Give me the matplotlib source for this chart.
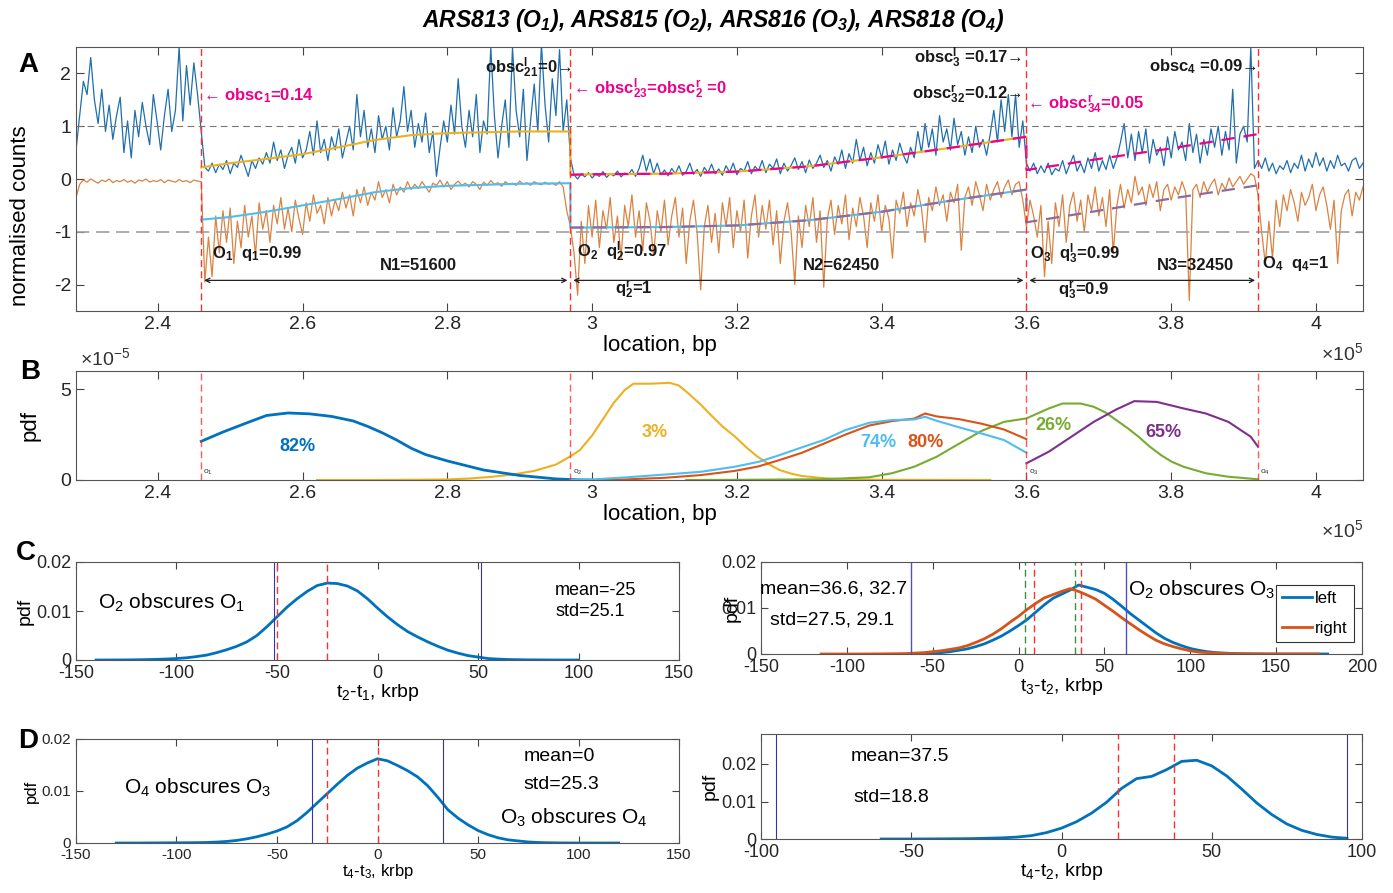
import numpy as np
import matplotlib
matplotlib.use("Agg")
import matplotlib.pyplot as plt
from matplotlib.ticker import FuncFormatter

plt.rcParams['font.family'] = ['Liberation Sans', 'DejaVu Sans']
plt.rcParams['mathtext.fontset'] = 'custom'
plt.rcParams['mathtext.rm'] = 'Liberation Sans'
plt.rcParams['mathtext.default'] = 'regular'
plt.rcParams['axes.unicode_minus'] = False
plt.rcParams['axes.linewidth'] = 0.8
plt.rcParams['axes.edgecolor'] = '#555555'
plt.rcParams['xtick.color'] = '#444444'
plt.rcParams['ytick.color'] = '#444444'
plt.rcParams['xtick.labelcolor'] = '#262626'
plt.rcParams['ytick.labelcolor'] = '#262626'
plt.rcParams['xtick.direction'] = 'in'
plt.rcParams['ytick.direction'] = 'in'
plt.rcParams['xtick.top'] = True
plt.rcParams['ytick.right'] = True

# ---------------- data ----------------
# origin positions (x 1e5 bp) and segment bounds
origins = [2.46, 2.97, 3.60, 3.92]
seg_bounds = [2.287, 2.46, 2.97, 3.60, 3.92, 4.065]

# normalised counts, top trace (blue), one list per segment
top_seg0 = [0.55, 1.2, 1.85, 1.6, 2.3, 1.5, 1.05, 1.7, 0.9, 1.4, 0.75, 1.2, 1.55, 0.5, 1.1, 0.4, 1.3, 0.8,
            1.45, 1.0, 0.65, 1.6, 1.1, 0.55, 1.2, 1.7, 0.9, 1.3, 2.5, 1.1, 2.15, 1.4, 2.2, 1.6, 0.9]
top_seg1 = [0.45, 0.22, 0.15, 0.3, 0.12, 0.28, 0.18, 0.35, 0.1, 0.3, 0.22, 0.45, 0.25, 0.05, 0.35, 0.2, 0.4,
            0.28, 0.5, 0.3, 0.7, 0.35, 0.55, 0.2, 0.45, 0.6, 0.3, 0.75, 0.4, 0.55, 0.9, 0.45, 1.1, 0.5, 0.75,
            0.35, 0.8, 0.55, 0.95, 0.4, 0.7, 1.0, 0.55, 1.6, 0.8, 1.3, 0.6, 0.95, 0.5, 1.2, 0.75, 1.0, 0.55,
            1.35, 0.8, 1.1, 1.75, 0.9, 1.3, 0.6, 1.05, 0.7, 1.25, 0.5, 0.9, 0.05, 0.6, 1.1, 0.7, 1.4, 0.85,
            1.9, 1.0, 0.6, 1.3, 0.8, 1.6, 0.5, 1.1, 0.85, 2.5, 1.2, 0.4, 1.0, 1.5, 0.6, 2.5, 1.3, 0.8, 1.7,
            0.35, 1.1, 1.8, 0.9, 2.55, 1.4, 0.7, 1.9, 1.2, 2.45, 0.9, 1.5, 0.4]
top_seg2 = [0.05, 0.08, 0.0, 0.1, 0.04, 0.12, 0.02, 0.09, 0.05, 0.14, 0.03, 0.1, 0.06, 0.15, 0.04, 0.11,
            0.08, 0.18, 0.05, 0.2, 0.45, 0.15, 0.38, 0.1, 0.3, 0.08, 0.17, 0.06, 0.2, 0.1, 0.25, 0.07, 0.14,
            0.3, 0.09, 0.18, 0.05, 0.22, 0.12, 0.28, 0.1, 0.19, 0.07, 0.25, 0.13, 0.3, 0.08, 0.2, 0.15, 0.33,
            0.1, 0.24, 0.16, 0.35, 0.12, 0.28, 0.2, 0.38, 0.1, 0.3, 0.15, 0.26, 0.4, 0.18, 0.33, 0.12, 0.36,
            0.2, 0.3, 0.45, 0.22, 0.35, 0.15, 0.42, 0.28, 0.55, 0.2, 0.48, 0.3, 0.75, 0.35, 0.6, 0.25, 0.5,
            0.3, 0.65, 0.4, 0.72, 0.28, 0.55, 0.35, 0.68, 0.45, 0.3, 0.6, 0.4, 0.9, 0.5, 1.05, 0.6, 0.95,
            0.45, 1.2, 0.7, 0.95, 0.55, 1.15, 0.65, 0.9, 0.45, 0.8, 0.5, 1.0, 0.6, 0.75, 0.45, 0.85, 1.3,
            0.7, 1.5, 0.9, 1.6, 0.8, 1.6, 0.6, 1.1, 0.3]
top_seg3 = [0.35, 0.15, 0.3, 0.1, 0.25, 0.12, 0.3, 0.08, 0.2, 0.15, 0.35, 0.1, 0.28, 0.45, 0.15, 0.3, 0.12,
            0.4, 0.2, 0.5, 0.15, 0.35, 0.18, 0.45, 0.2, 0.4, 0.7, 1.05, 0.4, 0.85, 0.35, 0.9, 0.5, 0.95, 0.3,
            0.75, 0.45, 0.6, 0.25, 0.8, 0.4, 0.9, 0.55, 0.7, 0.35, 1.05, 0.5, 0.85, 0.3, 0.75, 0.45, 0.95,
            0.6, 1.0, 0.45, 0.9, 0.55, 1.7, 0.3, 0.85, 1.0, 0.7, 2.5, 0.2, 0.35]
top_seg4 = [0.35, 0.2, 0.4, 0.15, 0.3, 0.1, 0.25, 0.18, 0.35, 0.12, 0.3, 0.2, 0.45, 0.15, 0.38, 0.22, 0.5,
            0.25, 0.4, 0.15, 0.35, 0.2, 0.45, 0.25, 0.3, 0.15, 0.35, 0.4, 0.2, 0.3]

# normalised counts, bottom trace (orange)
bot_seg0 = [-0.35, -0.1, -0.02, -0.06, 0.0, -0.04, -0.08, -0.02, -0.05, 0.0, -0.07, -0.03, -0.05, -0.01,
            -0.06, -0.03, -0.08, -0.02, -0.04, 0.0, -0.06, -0.03, -0.05, -0.01, -0.07, -0.02, -0.04, -0.06,
            -0.01, -0.05, -0.03, -0.07, -0.02, -0.04, -0.05]
bot_seg1 = [-0.3, -1.95, -1.1, -1.85, -0.7, -1.4, -0.6, -1.2, -0.55, -1.6, -0.8, -1.3, -0.5, -1.1, -0.7,
            -1.45, -0.45, -0.95, -0.6, -1.2, -0.5, -0.85, -0.35, -0.95, -0.55, -1.0, -0.4, -0.75, -1.05,
            -0.45, -0.8, -0.3, -0.65, -0.5, -0.85, -0.35, -0.7, -0.4, -0.6, -0.25, -0.55, -0.3, -0.7, -0.2,
            -0.45, -0.15, -0.5, -0.25, -0.4, -0.05, -0.35, -0.2, -0.45, -0.1, -0.3, -0.15, -0.25, -0.05,
            -0.2, -0.1, -0.18, -0.05, -0.15, -0.25, -0.08, -0.12, -0.02, -0.15, -0.05, -0.2, -0.1, -0.04,
            -0.12, -0.08, -0.15, -0.05, -0.1, -0.2, -0.06, -0.12, -0.03, -0.1, -0.07, -0.14, -0.05, -0.1,
            -0.08, -0.12, -0.04, -0.1, -0.07, -0.12, -0.05, -0.09, -0.11, -0.06, -0.1, -0.08, -0.12, -0.05,
            -0.15, -0.6, -0.9]
bot_seg2 = [-2.5, -1.4, -2.2, -0.8, -1.6, -0.5, -1.1, -0.4, -1.3, -0.6, -0.95, -0.35, -1.2, -0.7, -1.5,
            -0.5, -0.9, -0.3, -1.1, -0.6, -1.35, -0.45, -0.8, -1.45, -0.6, -1.0, -0.4, -1.25, -0.7, -0.35,
            -1.1, -0.55, -1.6, -0.8, -0.4, -1.0, -2.1, -0.9, -0.5, -1.2, -0.65, -1.4, -0.45, -0.9, -0.35,
            -1.3, -0.6, -1.0, -0.4, -1.5, -0.7, -0.3, -1.1, -0.5, -0.95, -0.4, -1.25, -0.6, -1.6, -0.8,
            -0.45, -1.0, -2.0, -0.7, -1.3, -0.5, -0.9, -0.35, -1.2, -0.6, -2.05, -0.75, -0.4, -1.05, -0.5,
            -0.85, -0.3, -1.15, -0.55, -0.9, -0.35, -0.7, -1.3, -0.45, -0.8, -0.3, -1.0, -0.5, -0.75, -1.5,
            -0.4, -0.65, -0.25, -0.9, -0.45, -0.7, -0.2, -0.55, -1.2, -0.35, -0.6, -0.15, -0.5, -0.3, -0.8,
            -0.25, -0.45, -0.1, -1.35, -0.35, -0.15, -0.5, -0.05, -0.3, -0.6, -0.1, -0.4, -0.2, -0.05,
            -0.35, -0.15, -0.02, -0.3, -0.1, -0.05, -0.4, -0.9]
bot_seg3 = [-1.0, -0.4, -0.7, -1.1, -0.5, -1.85, -0.8, -1.6, -0.45, -0.9, -0.3, -1.2, -0.5, -0.25, -0.8,
            -0.4, -1.0, -0.3, -0.6, -0.15, -0.7, -0.35, -0.9, -0.2, -1.4, -0.5, -0.1, -0.55, -0.2, -0.45,
            0.05, -0.3, -0.15, -0.5, -0.1, -0.35, -0.05, -0.6, -0.2, -0.1, -0.4, -0.15, -0.3, -0.05, -0.25,
            -2.3, -0.2, -0.1, -0.35, -0.05, -0.25, -0.1, 0.0, -0.3, -0.08, -0.2, 0.02, -0.15, -0.05, 0.05,
            -0.1, 0.0, 0.1, 0.05, -0.3]
bot_seg4 = [-0.5, -1.0, -1.6, -0.8, -1.5, -0.4, -0.9, -0.3, -0.6, -0.2, -0.45, -0.8, -0.25, -0.5, -0.35,
            -0.1, -0.6, -0.3, -0.15, -0.5, -0.95, -0.4, -1.6, -0.6, -0.3, -0.2, -0.7, -0.25, -0.4, -0.15]

# fitted profiles in panel A
fit_top_x = [2.46, 2.5, 2.55, 2.6, 2.65, 2.7, 2.75, 2.8, 2.9, 2.97, 2.97, 3.0, 3.1, 3.2, 3.3, 3.4, 3.5, 3.6]
fit_top_y = [0.22, 0.3, 0.38, 0.47, 0.6, 0.74, 0.83, 0.87, 0.9, 0.9, 0.08, 0.09, 0.1, 0.14, 0.24, 0.41, 0.6, 0.8]
fit_bot_x = [2.46, 2.5, 2.55, 2.6, 2.65, 2.7, 2.75, 2.8, 2.9, 2.97, 2.97, 3.1, 3.2, 3.3, 3.4, 3.5, 3.6]
fit_bot_y = [-0.77, -0.72, -0.62, -0.5, -0.38, -0.25, -0.17, -0.13, -0.09, -0.08, -0.92, -0.91, -0.88, -0.78,
             -0.62, -0.4, -0.2]
obs_top_x = [2.97, 3.0, 3.1, 3.2, 3.3, 3.4, 3.5, 3.6, 3.6, 3.7, 3.8, 3.92]
obs_top_y = [0.08, 0.09, 0.1, 0.14, 0.24, 0.41, 0.6, 0.8, 0.17, 0.38, 0.58, 0.85]
obs_bot_x = [2.97, 3.1, 3.2, 3.3, 3.4, 3.5, 3.6, 3.6, 3.7, 3.8, 3.92]
obs_bot_y = [-0.92, -0.91, -0.88, -0.78, -0.62, -0.4, -0.2, -0.82, -0.6, -0.37, -0.12]

# panel B, pdfs of initiation location (x 1e5 bp, y 1e-5)
b_blue_x = [2.46, 2.49, 2.52, 2.55, 2.58, 2.61, 2.64, 2.67, 2.69, 2.71, 2.73, 2.75, 2.77, 2.8, 2.85, 2.9, 2.95,
            2.98, 3.0]
b_blue_y = [2.13, 2.64, 3.1, 3.55, 3.69, 3.64, 3.5, 3.25, 2.95, 2.6, 2.2, 1.75, 1.4, 1.05, 0.55, 0.25, 0.06,
            0.01, 0.0]
b_yellow_x = [2.62, 2.7, 2.75, 2.8, 2.83, 2.86, 2.89, 2.92, 2.95, 2.97, 2.983, 3.0, 3.015, 3.03, 3.045, 3.057,
              3.08, 3.107, 3.12, 3.135, 3.15, 3.166, 3.18, 3.197, 3.213, 3.228, 3.245, 3.259, 3.275, 3.29,
              3.32, 3.35, 3.4, 3.55]
b_yellow_y = [0, 0, 0.01, 0.03, 0.08, 0.17, 0.3, 0.5, 0.85, 1.3, 1.64, 2.45, 3.35, 4.25, 4.95, 5.3, 5.3, 5.35,
              5.2, 4.7, 4.15, 3.5, 2.95, 2.4, 1.8, 1.3, 0.85, 0.55, 0.35, 0.22, 0.1, 0.04, 0.01, 0.0]
b_lblue_x = [2.97, 3.0, 3.045, 3.1, 3.15, 3.197, 3.23, 3.259, 3.29, 3.32, 3.35, 3.383, 3.414, 3.445, 3.46,
             3.476, 3.507, 3.538, 3.569, 3.6]
b_lblue_y = [0, 0.03, 0.14, 0.3, 0.45, 0.73, 1.0, 1.37, 1.8, 2.2, 2.75, 3.15, 3.3, 3.33, 3.48, 3.26, 2.9, 2.56,
             2.2, 1.5]
b_orange_x = [3.0, 3.045, 3.1, 3.15, 3.197, 3.23, 3.259, 3.29, 3.32, 3.35, 3.383, 3.414, 3.445, 3.46, 3.476,
              3.507, 3.538, 3.569, 3.6]
b_orange_y = [0, 0.03, 0.12, 0.27, 0.5, 0.75, 1.1, 1.5, 2.0, 2.5, 3.0, 3.24, 3.38, 3.66, 3.5, 3.35, 3.1,
              2.78, 2.25]
b_green_x = [3.13, 3.2, 3.32, 3.383, 3.414, 3.445, 3.476, 3.507, 3.538, 3.569, 3.6, 3.631, 3.65, 3.675,
             3.693, 3.71, 3.724, 3.74, 3.755, 3.77, 3.786, 3.8, 3.817, 3.848, 3.879, 3.92]
b_green_y = [0, 0.01, 0.04, 0.15, 0.37, 0.73, 1.28, 2.0, 2.7, 3.2, 3.39, 3.94, 4.21, 4.21, 4.03, 3.7, 3.3,
             2.85, 2.38, 1.85, 1.37, 1.02, 0.73, 0.37, 0.18, 0.04]
b_purple_x = [3.6, 3.631, 3.662, 3.693, 3.724, 3.749, 3.78, 3.817, 3.848, 3.879, 3.91, 3.92]
b_purple_y = [0.92, 1.56, 2.38, 3.2, 3.88, 4.34, 4.3, 3.94, 3.66, 3.2, 2.38, 1.83]
b_percent = ['82%', '3%', '74%', '80%', '26%', '65%']

# panel C/D distance pdfs (x in krbp, step 5)
c1_x = np.arange(-140, 101, 5)
c1_y = [0, 0, 0.00001, 0.00002, 0.00004, 0.00008, 0.00013, 0.0002, 0.0003, 0.00045, 0.0007, 0.001, 0.0015,
        0.0021, 0.0028, 0.0037, 0.005, 0.0068, 0.0088, 0.0108, 0.0125, 0.014, 0.0152, 0.0157, 0.0156,
        0.0151, 0.0141, 0.0125, 0.0106, 0.0088, 0.0072, 0.0058, 0.0047, 0.0037, 0.0028, 0.002, 0.0014,
        0.0009, 0.0006, 0.0003, 0.00018, 0.0001, 0.00006, 0.00003, 0.00002, 0.00001, 0, 0, 0]
c2_left_x = np.arange(-60, 181, 5)
c2_left_y = [0, 0.0001, 0.0002, 0.0003, 0.0005, 0.0008, 0.0011, 0.0016, 0.0022, 0.003, 0.0039, 0.005,
             0.0062, 0.0075, 0.0091, 0.0107, 0.0121, 0.013, 0.0139, 0.015, 0.0145, 0.014, 0.0132, 0.0119,
             0.0104, 0.0088, 0.0074, 0.006, 0.0046, 0.0034, 0.0025, 0.0018, 0.0012, 0.0008, 0.0005, 0.0003,
             0.0002, 0.0001, 0.00006, 0.00004, 0.00002, 0, 0, 0, 0, 0, 0, 0, 0]
c2_right_x = np.arange(-115, 176, 5)
c2_right_y = [0, 0, 0, 0, 0, 0.00001, 0.00002, 0.00003, 0.00005, 0.00007, 0.0001, 0.0002, 0.0003, 0.0005,
              0.0007, 0.001, 0.0013, 0.0018, 0.0025, 0.0033, 0.0043, 0.0055, 0.0069, 0.0082, 0.0097, 0.011,
              0.0122, 0.0129, 0.0136, 0.0142, 0.0136, 0.0128, 0.0119, 0.0106, 0.0093, 0.0079, 0.0066, 0.0053,
              0.0041, 0.003, 0.0022, 0.0016, 0.0011, 0.0007, 0.0004, 0.0003, 0.0002, 0.0001, 0.00005, 0.00003,
              0.00002, 0.00001, 0, 0, 0, 0, 0, 0, 0]
d1_x = np.arange(-130, 121, 5)
d1_y = [0, 0, 0, 0.00001, 0.00002, 0.00003, 0.00004, 0.00005, 0.00007, 0.0001, 0.00018, 0.0003, 0.0005,
        0.0008, 0.0012, 0.0017, 0.0023, 0.0031, 0.0043, 0.0059, 0.0077, 0.0095, 0.0113, 0.013, 0.0144, 0.0154,
        0.0162, 0.0158, 0.0149, 0.0139, 0.0127, 0.011, 0.0088, 0.0064, 0.0048, 0.0035, 0.0024, 0.0016, 0.001,
        0.0006, 0.0004, 0.0002, 0.0001, 0.00005, 0.00002, 0.00001, 0, 0, 0, 0, 0]
d2_x = np.arange(-60, 96, 5)
d2_y = [0, 0, 0, 0.00002, 0.00004, 0.00007, 0.0001, 0.0002, 0.0003, 0.0005, 0.0009, 0.0017, 0.0029, 0.0046,
        0.0069, 0.0098, 0.0135, 0.0161, 0.0167, 0.0185, 0.0207, 0.021, 0.0195, 0.0168, 0.0133, 0.0096, 0.0065,
        0.004, 0.0023, 0.0012, 0.0005, 0.0002]

# inter-origin distances (krbp) and summary stats
N = [51.6, 62.45, 32.45]
c1_mean, c1_std = -25, 25.1
c2_mean, c2_std = [36.6, 32.7], [27.5, 29.1]
d1_mean, d1_std = 0, 25.3
d2_mean, d2_std = 37.5, 18.8

# ---------------- figure ----------------
W, H = 1393, 893
fig = plt.figure(figsize=(W / 100, H / 100), dpi=100)


def ax_px(l, t, r, b):
    return fig.add_axes([l / W, 1 - b / H, (r - l) / W, (b - t) / H])


BLUE = '#0072BD'
ORANGE = '#D95319'
YELLOW = '#EDB120'
PURPLE = '#7E2F8E'
GREEN = '#77AC30'
LBLUE = '#4DBEEE'
MAG = '#EC008C'
RED = '#FF3030'
NAVY = '#3535A8'

xfmt = FuncFormatter(lambda v, p: '%g' % v)

# ---- A ----
axA = ax_px(76, 47, 1363, 311)
top = top_seg0 + top_seg1[1:] + top_seg2[1:] + top_seg3[1:] + top_seg4[1:]
bot = bot_seg0 + bot_seg1[1:] + bot_seg2[1:] + bot_seg3[1:] + bot_seg4[1:]
segs = [top_seg0, top_seg1, top_seg2, top_seg3, top_seg4]
xs = [np.linspace(seg_bounds[0], seg_bounds[1], len(segs[0]))]
for i in range(1, 5):
    xs.append(np.linspace(seg_bounds[i], seg_bounds[i + 1], len(segs[i]))[1:])
xall = np.concatenate(xs)
axA.plot(xall, bot, color='#DB8240', lw=0.9)
axA.plot(xall, top, color='#1F6FAD', lw=0.9)
axA.axhline(1, color='#777777', lw=0.8, dashes=(6, 4))
axA.axhline(-1, color='#A0A0A0', lw=1.2, dashes=(8, 4))
axA.plot(fit_top_x, fit_top_y, color=YELLOW, lw=1.5)
axA.plot(fit_bot_x, fit_bot_y, color=LBLUE, lw=1.5)
axA.plot(obs_top_x, obs_top_y, color=MAG, lw=1.6, dashes=(6, 4))
axA.plot(obs_bot_x, obs_bot_y, color='#8E6A9E', lw=1.6, dashes=(6, 4))
for o in origins:
    axA.axvline(o, color=RED, lw=1.0, dashes=(5, 3))
axA.set_xlim(2.287, 4.065)
axA.set_ylim(-2.5, 2.5)
axA.set_xticks([2.4, 2.6, 2.8, 3, 3.2, 3.4, 3.6, 3.8, 4])
axA.xaxis.set_major_formatter(xfmt)
axA.set_yticks([-2, -1, 0, 1, 2])
axA.tick_params(labelsize=14, length=6)
axA.set_xlabel('location, bp', fontsize=16)
axA.xaxis.set_label_coords(0.454, -0.09)
axA.set_ylabel('normalised counts', fontsize=16)
axA.yaxis.set_label_coords(-0.035, 0.36)

tb = dict(fontsize=12, fontweight='bold', va='center')
axA.text(2.462, 1.57, '\u2190 obsc$_1$=0.14', color=MAG, ha='left', **tb)
axA.text(2.972, 2.11, 'obsc$^l_{21}$=0\u2192', color='#1a1a1a', ha='right', **tb)
axA.text(2.973, 1.70, '\u2190 obsc$^l_{23}$=obsc$^r_2$ =0', color=MAG, ha='left', **tb)
axA.text(3.594, 2.30, 'obsc$^l_3$ =0.17\u2192', color='#1a1a1a', ha='right', **tb)
axA.text(3.594, 1.60, 'obsc$^r_{32}$=0.12\u2192', color='#1a1a1a', ha='right', **tb)
axA.text(3.601, 1.42, '\u2190 obsc$^r_{34}$=0.05', color=MAG, ha='left', **tb)
axA.text(3.918, 2.13, 'obsc$_4$ =0.09\u2192', color='#1a1a1a', ha='right', **tb)
axA.text(2.475, -1.42, 'O$_1$  q$_1$=0.99', color='#1a1a1a', ha='left', **tb)
axA.text(2.979, -1.38, 'O$_2$  q$^l_2$=0.97', color='#1a1a1a', ha='left', **tb)
axA.text(3.605, -1.42, 'O$_3$  q$^l_3$=0.99', color='#1a1a1a', ha='left', **tb)
axA.text(3.925, -1.60, 'O$_4$  q$_4$=1', color='#1a1a1a', ha='left', **tb)
axA.text(3.031, -2.08, 'q$^r_2$=1', color='#1a1a1a', ha='left', **tb)
axA.text(3.644, -2.11, 'q$^r_3$=0.9', color='#1a1a1a', ha='left', **tb)
for i, (n, xl) in enumerate(zip(N, [2.707, 3.291, 3.78])):
    axA.text(xl, -1.64, 'N%d=%d' % (i + 1, round(n * 1000)), color='#1a1a1a', ha='left', **tb)
    axA.annotate('', xy=(origins[i] + 0.004, -1.92), xytext=(origins[i + 1] - 0.004, -1.92),
                 arrowprops=dict(arrowstyle='<->', lw=0.9, color='#222222', mutation_scale=8,
                                 shrinkA=0, shrinkB=0))

# ---- B ----
axB = ax_px(76, 371, 1363, 480)
axB.plot(b_yellow_x, b_yellow_y, color=YELLOW, lw=1.5)
axB.plot(b_blue_x, b_blue_y, color=BLUE, lw=2)
axB.plot(b_green_x, b_green_y, color=GREEN, lw=1.5)
axB.plot(b_orange_x, b_orange_y, color=ORANGE, lw=1.5)
axB.plot(b_lblue_x, b_lblue_y, color=LBLUE, lw=1.5)
axB.plot(b_purple_x, b_purple_y, color=PURPLE, lw=1.5)
for i, o in enumerate(origins):
    axB.axvline(o, color=RED, lw=1.0, dashes=(5, 3), alpha=0.8)
    axB.text(o + 0.003, 0.15, 'o$_%d$' % (i + 1), fontsize=6, color='#333333', ha='left', va='bottom')
pct_pos = [(2.593, 1.85, BLUE), (3.087, 2.6, YELLOW), (3.395, 2.07, LBLUE), (3.46, 2.07, ORANGE),
           (3.637, 3.0, GREEN), (3.789, 2.6, PURPLE)]
for lab, (px_, py_, c) in zip(b_percent, pct_pos):
    axB.text(px_, py_, lab, color=c, fontsize=13, fontweight='bold', ha='center', va='center')
axB.set_xlim(2.287, 4.065)
axB.set_ylim(0, 6)
axB.set_xticks([2.4, 2.6, 2.8, 3, 3.2, 3.4, 3.6, 3.8, 4])
axB.xaxis.set_major_formatter(xfmt)
axB.set_yticks([0, 5])
axB.tick_params(labelsize=14, length=6)
axB.set_xlabel('location, bp', fontsize=16)
axB.xaxis.set_label_coords(0.454, -0.22)
axB.set_ylabel('pdf', fontsize=16, labelpad=14)
fig.text(80 / W, 1 - 358 / H, '\u00d710$^{-5}$', fontsize=14, color='#333333', ha='left', va='center')
fig.text(1363 / W, 1 - 353 / H, '\u00d710$^{5}$', fontsize=14, color='#333333', ha='right', va='center')
fig.text(1363 / W, 1 - 530 / H, '\u00d710$^{5}$', fontsize=14, color='#333333', ha='right', va='center')

# ---- C left ----
axC1 = ax_px(76, 562, 679, 660)
axC1.plot(c1_x, c1_y, color=BLUE, lw=2)
for v in (-N[0], N[0]):
    axC1.axvline(v, color=NAVY, lw=0.8)
for v in (c1_mean - c1_std, c1_mean):
    axC1.axvline(v, color=RED, lw=1.0, dashes=(5, 3))
axC1.set_xlim(-150, 150)
axC1.set_ylim(0, 0.02)
axC1.set_yticks([0, 0.01, 0.02])
axC1.yaxis.set_major_formatter(xfmt)
axC1.tick_params(labelsize=13, length=5)
axC1.set_xlabel('t$_2$-t$_1$, krbp', fontsize=14, labelpad=0)
axC1.set_ylabel('pdf', fontsize=14, labelpad=2)
axC1.text(-139, 0.0116, 'O$_2$ obscures O$_1$', fontsize=15, va='center')
axC1.text(88.4, 0.0142, 'mean=%g' % c1_mean, fontsize=13, va='center')
axC1.text(88.4, 0.0098, 'std=%g' % c1_std, fontsize=13, va='center')

# ---- C right ----
axC2 = ax_px(761, 562, 1362, 654)
axC2.plot(c2_left_x, c2_left_y, color=BLUE, lw=2, label='left')
axC2.plot(c2_right_x, c2_right_y, color=ORANGE, lw=2, label='right')
for v in (-N[1], N[1]):
    axC2.axvline(v, color='#5050C0', lw=1.0)
axC2.axvline(c2_mean[0], color=RED, lw=1.0, dashes=(5, 3))
axC2.axvline(c2_mean[0] - c2_std[0], color=RED, lw=1.0, dashes=(5, 3))
axC2.axvline(c2_mean[1], color='#3E8E3E', lw=1.0, dashes=(5, 3))
axC2.axvline(c2_mean[1] - c2_std[1], color='#3E8E3E', lw=1.0, dashes=(5, 3))
axC2.set_xlim(-150, 200)
axC2.set_ylim(0, 0.02)
axC2.set_yticks([0, 0.01, 0.02])
axC2.yaxis.set_major_formatter(xfmt)
axC2.tick_params(labelsize=13, length=5)
axC2.set_xlabel('t$_3$-t$_2$, krbp', fontsize=14, labelpad=0)
axC2.set_ylabel('pdf', fontsize=14, labelpad=-14)
axC2.text(-150.5, 0.0141, 'mean=%g, %g' % tuple(c2_mean), fontsize=14, va='center')
axC2.text(-144.8, 0.0074, 'std=%g, %g' % tuple(c2_std), fontsize=14, va='center')
axC2.text(63.7, 0.0139, 'O$_2$ obscures O$_3$', fontsize=15, va='center')
leg = axC2.legend(loc='lower right', bbox_to_anchor=(1.0, 0.04), fontsize=12, handlelength=1.8,
                  handletextpad=0.2, borderpad=0.35, labelspacing=0.9, fancybox=False, framealpha=1,
                  edgecolor='#333333')
leg.get_frame().set_linewidth(0.8)

# ---- D left ----
axD1 = ax_px(76, 739, 679, 843)
axD1.plot(d1_x, d1_y, color=BLUE, lw=2)
for v in (-N[2], N[2]):
    axD1.axvline(v, color=NAVY, lw=0.8)
for v in (d1_mean - d1_std, d1_mean):
    axD1.axvline(v, color=RED, lw=1.0, dashes=(5, 3))
axD1.set_xlim(-150, 150)
axD1.set_ylim(0, 0.02)
axD1.set_yticks([0, 0.01, 0.02])
axD1.yaxis.set_major_formatter(xfmt)
axD1.tick_params(labelsize=11, length=5)
axD1.set_xlabel('t$_4$-t$_3$, krbp', fontsize=12, labelpad=0)
axD1.set_ylabel('pdf', fontsize=12, labelpad=2)
axD1.text(-126, 0.0106, 'O$_4$ obscures O$_3$', fontsize=15, va='center')
axD1.text(72.5, 0.0167, 'mean=%g' % d1_mean, fontsize=14, va='center')
axD1.text(72.5, 0.0113, 'std=%g' % d1_std, fontsize=14, va='center')
axD1.text(61, 0.0048, 'O$_3$ obscures O$_4$', fontsize=15, va='center')

# ---- D right ----
axD2 = ax_px(761, 734, 1362, 839)
axD2.plot(d2_x, d2_y, color=BLUE, lw=2)
for v in (-(N[1] + N[2]), N[1] + N[2]):
    axD2.axvline(v, color=NAVY, lw=0.8)
for v in (d2_mean - d2_std, d2_mean):
    axD2.axvline(v, color=RED, lw=1.0, dashes=(5, 3))
axD2.set_xlim(-100, 100)
axD2.set_ylim(0, 0.028)
axD2.set_xticks([-100, -50, 0, 50, 100])
axD2.set_yticks([0, 0.01, 0.02])
axD2.yaxis.set_major_formatter(xfmt)
axD2.tick_params(labelsize=13, length=5)
axD2.set_xlabel('t$_4$-t$_2$, krbp', fontsize=14, labelpad=0)
axD2.set_ylabel('pdf', fontsize=14, labelpad=2)
axD2.text(-70, 0.0219, 'mean=%g' % d2_mean, fontsize=14, va='center')
axD2.text(-69.4, 0.0112, 'std=%g' % d2_std, fontsize=14, va='center')

# panel letters and title
for lab, (lx, ly) in zip('ABCD', [(18, 65), (20, 372), (16, 553), (18, 741)]):
    fig.text(lx / W, 1 - ly / H, lab, fontsize=20, fontweight='bold', ha='left', va='center')
fig.text(713 / W, 1 - 20 / H, 'ARS813 (O$_1$), ARS815 (O$_2$), ARS816 (O$_3$), ARS818 (O$_4$)',
         fontsize=16.5, fontweight='bold', fontstyle='italic', ha='center', va='center')

fig.savefig('out.png', dpi=100)
